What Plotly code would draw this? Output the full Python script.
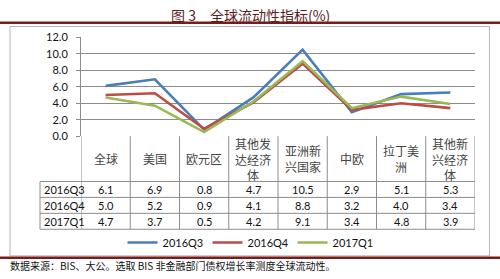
import plotly.graph_objects as go

categories = ["全球", "美国", "欧元区", "其他发达经济体", "亚洲新兴国家", "中欧", "拉丁美洲", "其他新兴经济体"]
header_labels = ["全球", "美国", "欧元区", "其他发<br>达经济<br>体", "亚洲新<br>兴国家", "中欧", "拉丁美<br>洲", "其他新<br>兴经济<br>体"]
series_names = ["2016Q3", "2016Q4", "2017Q1"]
q3_2016 = [6.1, 6.9, 0.8, 4.7, 10.5, 2.9, 5.1, 5.3]
q4_2016 = [5.0, 5.2, 0.9, 4.1, 8.8, 3.2, 4.0, 3.4]
q1_2017 = [4.7, 3.7, 0.5, 4.2, 9.1, 3.4, 4.8, 3.9]
series_values = [q3_2016, q4_2016, q1_2017]
colors = ["#4A7EBB", "#BE4B48", "#98B954"]
y_ticks = [0, 2, 4, 6, 8, 10, 12]

W, H = 500, 279
def px(x):
    return x / W
def py(y):
    return 1 - y / H

FONT = "Lato, 'Noto Sans CJK SC', sans-serif"
CJK = "'Noto Sans CJK SC', sans-serif"
grid_c = "#8C8C8C"

fig = go.Figure()
for name, vals, c in zip(series_names, series_values, colors):
    fig.add_trace(go.Scatter(x=categories, y=vals, name=name, mode="lines",
                             line=dict(color=c, width=2.6), hoverinfo="skip"))

# ---- data table below the plot, aligned with the category axis ----
tbl_top, hdr_bot = 135.5, 183.0
row_h = 16.7
row_lines = [hdr_bot + k * row_h for k in range(len(series_names) + 1)]
tbl_bot = row_lines[-1]
tbl_left = 40
shapes = []
n = len(categories)
for k in range(n + 1):
    shapes.append(dict(type="line", xref="x", yref="paper", x0=k - 0.5, x1=k - 0.5,
                       y0=py(tbl_bot), y1=py(tbl_top), line=dict(color=grid_c, width=1)))
shapes.append(dict(type="line", xref="paper", yref="paper", x0=px(tbl_left), x1=px(tbl_left),
                   y0=py(tbl_bot), y1=py(hdr_bot), line=dict(color=grid_c, width=1)))
for yy in row_lines:
    shapes.append(dict(type="line", xref="paper", yref="paper", x0=px(tbl_left), x1=px(475),
                       y0=py(yy), y1=py(yy), line=dict(color=grid_c, width=1)))

annotations = []
for cat, lab in zip(categories, header_labels):
    annotations.append(dict(text=lab, xref="x", yref="paper", x=cat, y=py((tbl_top + hdr_bot) / 2),
                            xanchor="center", yanchor="middle", showarrow=False,
                            font=dict(family=CJK, size=12, color="#444")))
for r, (sname, vals) in enumerate(zip(series_names, series_values)):
    yc = py((row_lines[r] + row_lines[r + 1]) / 2)
    annotations.append(dict(text=sname, xref="paper", yref="paper", x=px(tbl_left + 2), y=yc,
                            xanchor="left", yanchor="middle", showarrow=False,
                            font=dict(family=FONT, size=11, color="#111")))
    for cat, v in zip(categories, vals):
        annotations.append(dict(text=f"{v:.1f}", xref="x", yref="paper", x=cat, y=yc,
                                xanchor="center", yanchor="middle", showarrow=False,
                                font=dict(family=FONT, size=11, color="#111")))

# ---- frame, rules, title, source ----
shapes += [
    dict(type="rect", xref="paper", yref="paper", x0=px(10), x1=px(489.5), y0=py(261), y1=py(20.5),
         line=dict(color="#B5B5B5", width=1), layer="below"),
    dict(type="line", xref="paper", yref="paper", x0=0, x1=1, y0=py(16.5), y1=py(16.5),
         line=dict(color="#7A1C1C", width=2.5)),
    dict(type="line", xref="paper", yref="paper", x0=0, x1=1, y0=py(263), y1=py(263),
         line=dict(color="#7A1C1C", width=2.5)),
]
annotations += [
    dict(text="图 3　全球流动性指标(%)", xref="paper", yref="paper", x=0.5, y=py(8.5),
         xanchor="center", yanchor="middle", showarrow=False,
         font=dict(family=CJK, size=14, color="#5A1E1E")),
    dict(text="数据来源：BIS、大公。选取 BIS 非金融部门债权增长率测度全球流动性。", xref="paper", yref="paper",
         x=px(8), y=py(271.5), xanchor="left", yanchor="middle", showarrow=False,
         font=dict(family=CJK, size=10, color="#111")),
]

fig.update_layout(
    width=W, height=H, margin=dict(l=0, r=0, t=0, b=0),
    paper_bgcolor="white", plot_bgcolor="white",
    showlegend=True,
    legend=dict(orientation="h", x=0.5, xanchor="center", y=py(247), yanchor="middle",
                font=dict(family=FONT, size=11, color="#111"), itemwidth=30, entrywidth=40,
                bgcolor="rgba(0,0,0,0)"),
    xaxis=dict(domain=[px(81), px(475)], range=[-0.5, n - 0.5], showticklabels=False,
               showgrid=False, showline=False, zeroline=False, ticks=""),
    yaxis=dict(domain=[py(135.5), py(31.7)], range=[0, 12], tickvals=y_ticks,
               tickformat=".1f", showgrid=True, gridcolor=grid_c, gridwidth=1,
               zeroline=False, showline=True, linecolor=grid_c, linewidth=1,
               ticks="outside", ticklen=4, tickcolor=grid_c, ticklabelstandoff=6,
               tickfont=dict(family=FONT, size=11, color="#111")),
    shapes=shapes,
    annotations=annotations,
)

fig.write_html("out.html")
